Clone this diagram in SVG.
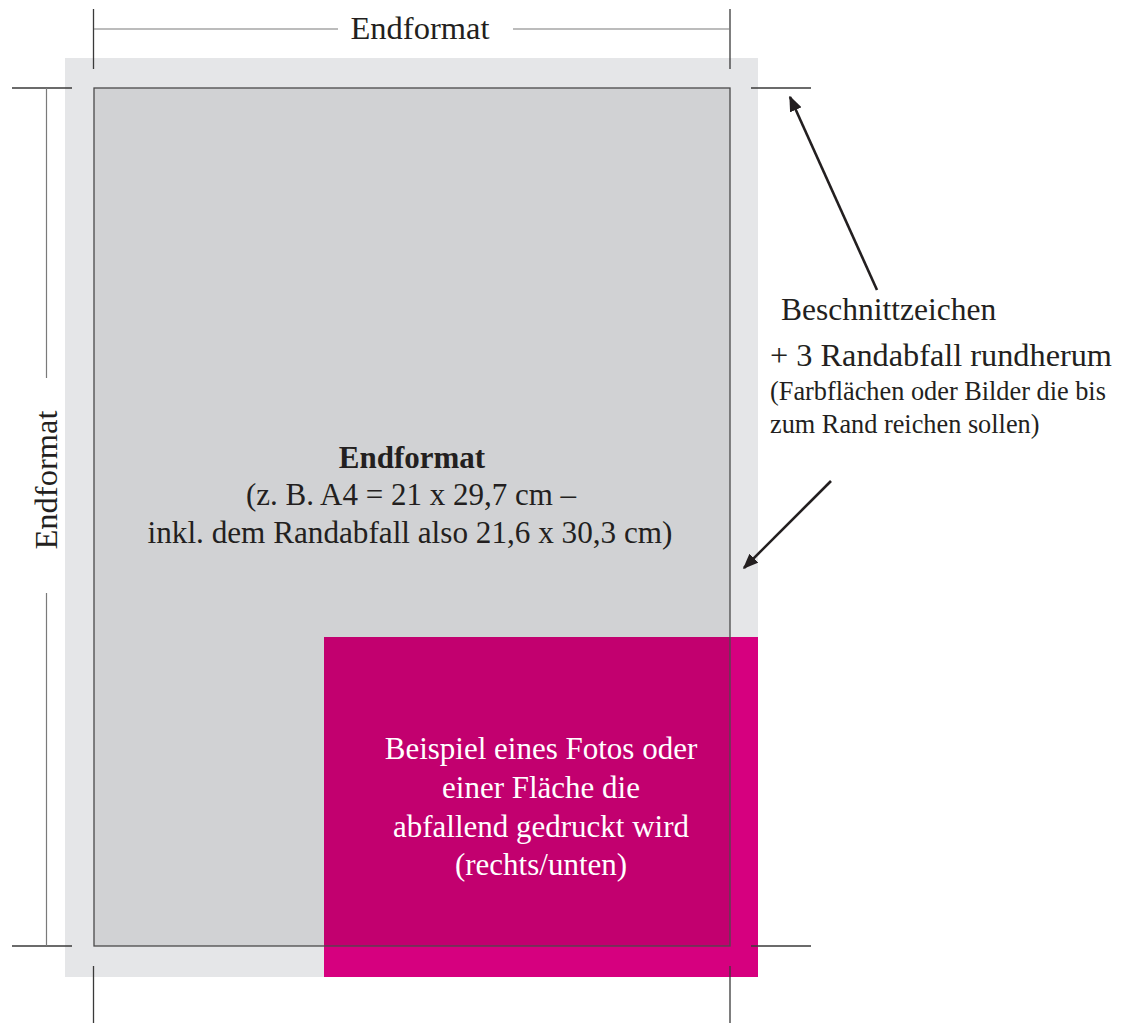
<svg xmlns="http://www.w3.org/2000/svg" width="1129" height="1023" viewBox="0 0 1129 1023">
<style>
.t{font-family:"Liberation Serif","Times New Roman",serif;fill:#231f20}
.w{font-family:"Liberation Serif","Times New Roman",serif;fill:#ffffff}
.crop{stroke:#3a3a3a;stroke-width:1.3;fill:none}
.dim{stroke:#7a7a7a;stroke-width:1.2;fill:none}
.arr{stroke:#231f20;stroke-width:2.6;fill:none}
</style>
<defs>
<marker id="ah" viewBox="0 0 10 8" refX="9" refY="4" markerWidth="6" markerHeight="4.8" orient="auto" markerUnits="strokeWidth">
<path d="M0,0 L10,4 L0,8 z" fill="#231f20"/>
</marker>
</defs>
<rect width="1129" height="1023" fill="#ffffff"/>
<g id="bleed"><rect x="65" y="58" width="693" height="919" fill="#e5e6e8"/></g>
<g id="endformat-area"><rect x="94" y="88" width="636" height="858" fill="#d1d2d4"/></g>
<g id="photo">
<rect x="324" y="637" width="434" height="340" fill="#d6007f"/>
<rect x="324" y="637" width="406" height="309" fill="#c2006f"/>
</g>
<g id="endformat-border"><rect x="94" y="88" width="636" height="858" fill="none" stroke="#4a4a4a" stroke-width="1.3"/></g>
<g id="crop-marks">
<line class="crop" x1="93.5" y1="9" x2="93.5" y2="69"/>
<line class="crop" x1="12" y1="88" x2="72" y2="88"/>
<line class="crop" x1="730" y1="9" x2="730" y2="69"/>
<line class="crop" x1="751" y1="88" x2="811" y2="88"/>
<line class="crop" x1="12" y1="946" x2="72" y2="946"/>
<line class="crop" x1="93.5" y1="966" x2="93.5" y2="1023"/>
<line class="crop" x1="751" y1="946" x2="811" y2="946"/>
<line class="crop" x1="730" y1="966" x2="730" y2="1023"/>
</g>
<g id="connectors">
<line class="dim" x1="94" y1="29" x2="338" y2="29"/>
<line class="dim" x1="513" y1="29" x2="730" y2="29"/>
<line class="dim" x1="46.5" y1="88" x2="46.5" y2="378"/>
<line class="dim" x1="46.5" y1="593" x2="46.5" y2="946"/>
<line class="arr" x1="877" y1="290" x2="790" y2="97" marker-end="url(#ah)"/>
<line class="arr" x1="831" y1="481" x2="744" y2="568" marker-end="url(#ah)"/>
</g>
<g id="label-top"><text class="t" x="420" y="39" font-size="32.5" text-anchor="middle">Endformat</text></g>
<g id="label-left"><text class="t" x="0" y="0" font-size="32.5" text-anchor="middle" transform="translate(57,480) rotate(-90)">Endformat</text></g>
<g id="label-center">
<text class="t" x="412" y="468" font-size="31" font-weight="bold" text-anchor="middle">Endformat</text>
<text class="t" x="411" y="505" font-size="31" text-anchor="middle">(z. B. A4 = 21 x 29,7 cm –</text>
<text class="t" x="410" y="543" font-size="31.2" text-anchor="middle">inkl. dem Randabfall also 21,6 x 30,3 cm)</text>
</g>
<g id="label-right">
<text class="t" x="781" y="320" font-size="31.5">Beschnittzeichen</text>
<text class="t" x="770" y="366" font-size="32.3">+ 3 Randabfall rundherum</text>
<text class="t" x="770" y="400" font-size="26.3">(Farbflächen oder Bilder die bis</text>
<text class="t" x="770" y="433" font-size="26.3">zum Rand reichen sollen)</text>
</g>
<g id="label-photo">
<text class="w" x="541" y="759" font-size="31" text-anchor="middle">Beispiel eines Fotos oder</text>
<text class="w" x="541" y="798" font-size="31" text-anchor="middle">einer Fläche die</text>
<text class="w" x="541" y="837" font-size="31" text-anchor="middle">abfallend gedruckt wird</text>
<text class="w" x="541" y="875" font-size="31" text-anchor="middle">(rechts/unten)</text>
</g>
</svg>
